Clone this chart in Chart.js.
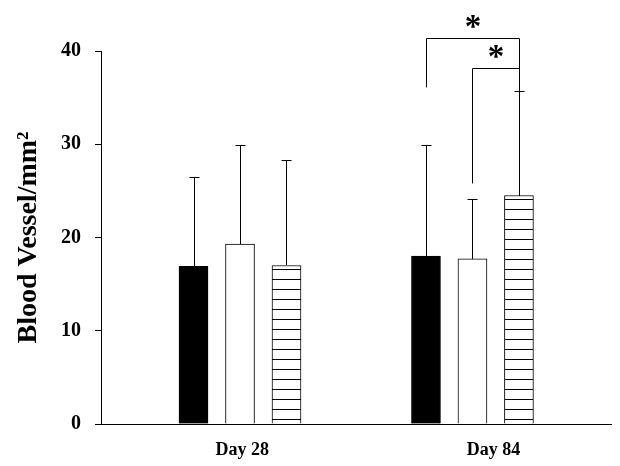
<!DOCTYPE html>
<html>
<head>
<meta charset="utf-8">
<script src="https://cdn.jsdelivr.net/npm/chart.js@4/dist/chart.umd.min.js"></script>
<style>
  html, body { margin: 0; padding: 0; background: #fff; }
  #wrap { width: 620px; height: 466px; }
</style>
</head>
<body>
<div id="wrap"><canvas id="myChart"></canvas></div>
<script>
// categories and values
const days = ['Day 28', 'Day 84'];
const blackMean = [16.9, 18.0];
const blackSD = [9.6, 11.9];
const whiteMean = [19.3, 17.7];
const whiteSD = [10.6, 6.4];
const hatchMean = [17.0, 24.5];
const hatchSD = [11.3, 11.2];
const yTicks = [0, 10, 20, 30, 40];

// significance brackets (day 84): bar a vs bar b, line level, left leg end
const sigGroup = [1, 1];
const sigFrom = [0, 1];
const sigTo = [2, 2];
const sigLevel = [41.4, 38.15];
const sigDrop = [36.1, 25.8];

const serif = 'Liberation Serif';

// stripe pattern for the third bar
function stripes() {
    const c = document.createElement('canvas');
    c.width = 8;
    c.height = 10;
    const g = c.getContext('2d');
    g.fillStyle = '#fff';
    g.fillRect(0, 0, 8, 10);
    g.fillStyle = '#000';
    g.fillRect(0, 9, 8, 1);
    return g.createPattern(c, 'repeat');
}

const barShift = [-0.2, 0, 0.2]; // place the 3 bars inside each group
function toPoints(vals, k) {
    return vals.map((v, i) => ({ x: i + 1 + barShift[k], y: v }));
}

const errBars = {
    id: 'errBars',
    afterDatasetsDraw(chart) {
        const ctx = chart.ctx;
        const ys = chart.scales.y;
        const sds = [blackSD, whiteSD, hatchSD];
        ctx.save();
        ctx.strokeStyle = '#000';
        ctx.lineWidth = 1;
        chart.data.datasets.forEach((ds, k) => {
            const meta = chart.getDatasetMeta(k);
            meta.data.forEach((bar, i) => {
                const x = Math.round(bar.x) + 0.5;
                const top = Math.round(ys.getPixelForValue(ds.data[i].y + sds[k][i])) + 0.5;
                ctx.beginPath();
                ctx.moveTo(x, Math.round(bar.y));
                ctx.lineTo(x, top);
                ctx.moveTo(x - 5, top);
                ctx.lineTo(x + 5, top);
                ctx.stroke();
            });
        });

        // brackets and stars
        ctx.fillStyle = '#000';
        ctx.font = 'bold 33px ' + serif;
        ctx.textAlign = 'center';
        ctx.textBaseline = 'middle';
        sigLevel.forEach((lvl, s) => {
            const g = sigGroup[s];
            const a = chart.getDatasetMeta(sigFrom[s]).data[g];
            const b = chart.getDatasetMeta(sigTo[s]).data[g];
            const bTop = ys.getPixelForValue(chart.data.datasets[sigTo[s]].data[g].y + sds[sigTo[s]][g]);
            const xa = Math.round(a.x) + 0.5;
            const xb = Math.round(b.x) + 0.5;
            const yl = Math.round(ys.getPixelForValue(lvl)) + 0.5;
            const yd = ys.getPixelForValue(sigDrop[s]);
            ctx.beginPath();
            ctx.moveTo(xa, yd);
            ctx.lineTo(xa, yl);
            ctx.lineTo(xb, yl);
            ctx.lineTo(xb, bTop);
            ctx.stroke();
            ctx.fillText('*', (xa + xb) / 2, yl - 10);
        });
        ctx.restore();
    }
};

const data = {
    datasets: [{
            label: 'A',
            data: toPoints(blackMean, 0),
            backgroundColor: '#000',
            borderColor: '#000',
            borderWidth: 1,
        },
        {
            label: 'B',
            data: toPoints(whiteMean, 1),
            backgroundColor: '#fff',
            borderColor: '#000',
            borderWidth: 1,
        },
        {
            label: 'C',
            data: toPoints(hatchMean, 2),
            backgroundColor: stripes(),
            borderColor: '#000',
            borderWidth: 1,
        }
    ]
};

const config = {
    type: 'bar',
    data: data,
    options: {
        responsive: true,
        maintainAspectRatio: false,
        animation: false,
        grouped: false,
        barThickness: 29,
        maxBarThickness: 29,
        layout: { padding: { top: 51, right: 9, left: 0, bottom: 0 } },
        plugins: {
            legend: { display: false },
            tooltip: { enabled: false }
        },
        scales: {
            x: {
                type: 'linear',
                offset: false,
                min: 0.402,
                max: 2.596,
                afterBuildTicks: s => { s.ticks = [1.01, 2.09].map(v => ({ value: v })); },
                afterFit: s => { s.height = 42; },
                grid: { display: false, drawTicks: false },
                border: { display: true, color: '#000', width: 1 },
                ticks: {
                    color: '#000',
                    padding: 16,
                    font: { family: serif, size: 18, weight: 'bold' },
                    callback: (v, i) => days[i]
                }
            },
            y: {
                min: 0,
                max: 40,
                afterBuildTicks: s => { s.ticks = yTicks.map(v => ({ value: v })); },
                afterFit: s => { s.width = 101; },
                grid: {
                    drawOnChartArea: false,
                    drawTicks: true,
                    tickLength: 6,
                    color: '#000',
                    lineWidth: 1
                },
                border: { display: true, color: '#000', width: 1 },
                ticks: {
                    color: '#000',
                    padding: 14,
                    font: { family: serif, size: 20, weight: 'bold' }
                },
                title: {
                    display: true,
                    text: 'Blood Vessel/mm\u00b2',
                    color: '#000',
                    padding: { top: 12, bottom: 0 },
                    font: { family: serif, size: 28, weight: 'bold' }
                }
            }
        }
    },
    plugins: [errBars]
};

const myChart = new Chart(document.getElementById('myChart'), config);
</script>
</body>
</html>
